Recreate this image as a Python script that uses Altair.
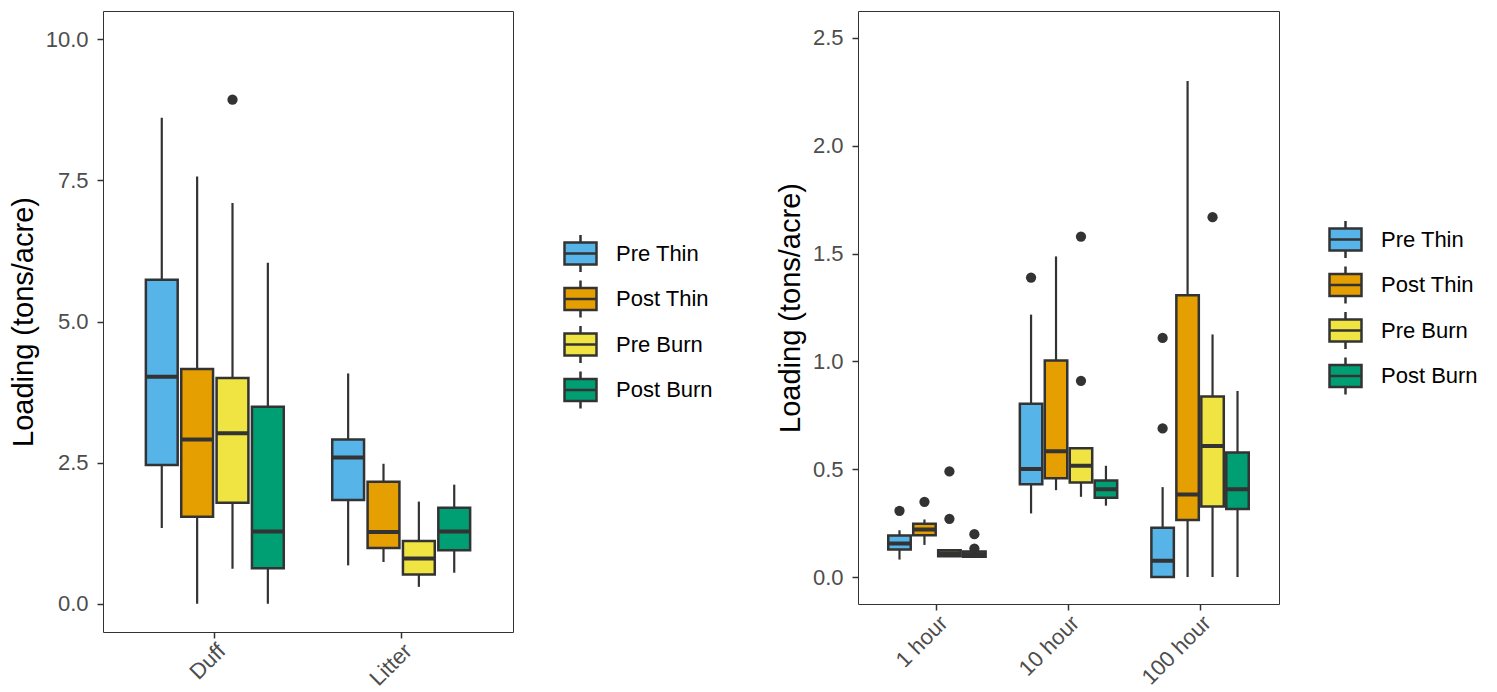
import altair as alt
import pandas as pd

treatments = ["Pre Thin", "Post Thin", "Pre Burn", "Post Burn"]
colors = ["#56B4E9", "#E69F00", "#F0E442", "#009E73"]

# Left panel (Duff / Litter)
left_cats = ["Duff", "Litter"]
left_lo = [1.34, 0.00, 0.62, 0.00, 0.68, 0.74, 0.30, 0.55]
left_q1 = [2.46, 1.54, 1.79, 0.63, 1.84, 0.99, 0.52, 0.95]
left_med = [4.02, 2.91, 3.02, 1.28, 2.59, 1.27, 0.80, 1.28]
left_q3 = [5.74, 4.16, 4.00, 3.49, 2.91, 2.16, 1.11, 1.70]
left_hi = [8.61, 7.57, 7.10, 6.04, 4.08, 2.48, 1.81, 2.11]
left_out_cat = ["Duff"]
left_out_trt = ["Pre Burn"]
left_out_val = [8.93]
left_ticks = [0.0, 2.5, 5.0, 7.5, 10.0]

# Right panel (1 / 10 / 100 hour)
right_cats = ["1 hour", "10 hour", "100 hour"]
right_lo = [0.081, 0.149, 0.093, 0.093, 0.295, 0.403, 0.372, 0.331, 0.0, 0.0, 0.0, 0.0]
right_q1 = [0.128, 0.194, 0.096, 0.094, 0.430, 0.458, 0.438, 0.368, 0.0, 0.264, 0.327, 0.315]
right_med = [0.155, 0.220, 0.110, 0.105, 0.501, 0.583, 0.516, 0.407, 0.076, 0.383, 0.608, 0.407]
right_q3 = [0.193, 0.247, 0.124, 0.118, 0.804, 1.004, 0.597, 0.448, 0.229, 1.307, 0.837, 0.577]
right_hi = [0.217, 0.267, 0.124, 0.118, 1.217, 1.487, 0.597, 0.516, 0.417, 2.300, 1.125, 0.863]
right_out_cat = ["1 hour", "1 hour", "1 hour", "1 hour", "1 hour", "1 hour",
                 "10 hour", "10 hour", "10 hour", "100 hour", "100 hour", "100 hour"]
right_out_trt = ["Pre Thin", "Post Thin", "Pre Burn", "Pre Burn", "Post Burn", "Post Burn",
                 "Pre Thin", "Pre Burn", "Pre Burn", "Pre Thin", "Pre Thin", "Pre Burn"]
right_out_val = [0.307, 0.349, 0.490, 0.270, 0.199, 0.132,
                 1.389, 1.579, 0.910, 1.109, 0.689, 1.669]
right_ticks = [0.0, 0.5, 1.0, 1.5, 2.0, 2.5]

FONT = "Liberation Sans"
DARK = "#333333"
BOX_PATH = ("M-1,-0.69H1V0.69H-1Z M-1,0H1 M0,-0.69V-1.16 M0,0.69V1.16")


def box_df(cats, lo, q1, med, q3, hi):
    rows = []
    i = 0
    for c in cats:
        for t in treatments:
            rows.append(dict(cat=c, trt=t, lo=lo[i], q1=q1[i], med=med[i], q3=q3[i], hi=hi[i]))
            i += 1
    return pd.DataFrame(rows)


def panel(box, out, cats, ydom, yvals, width, height, lx, ly):
    xenc = alt.X("cat:N", sort=cats,
                 scale=alt.Scale(paddingInner=0.26, paddingOuter=0.23),
                 axis=alt.Axis(title=None, labelAngle=-45, labelAlign="right",
                               labelBaseline="top", labelPadding=2))
    xoff = alt.XOffset("trt:N", sort=treatments,
                       scale=alt.Scale(domain=treatments, paddingInner=0.1, paddingOuter=0))
    yscale = alt.Scale(domain=ydom, nice=False, zero=False)
    yaxis = alt.Axis(values=yvals, format=".1f", grid=False, labelPadding=9, titlePadding=7)
    ytitle = "Loading (tons/acre)"

    whisk = alt.Chart(box).mark_rule(color=DARK, strokeWidth=2.2).encode(
        x=xenc, xOffset=xoff,
        y=alt.Y("lo:Q", scale=yscale, axis=yaxis, title=ytitle), y2="hi:Q")
    boxes = alt.Chart(box).mark_bar(stroke=DARK, strokeWidth=2.5).encode(
        x=xenc, xOffset=xoff,
        y=alt.Y("q1:Q", scale=yscale, axis=yaxis, title=ytitle), y2="q3:Q",
        fill=alt.Fill("trt:N", sort=treatments,
                      scale=alt.Scale(domain=treatments, range=colors),
                      legend=alt.Legend(title=None, orient="none", legendX=lx, legendY=ly,
                                        symbolType=BOX_PATH, symbolSize=1024,
                                        symbolStrokeColor=DARK, symbolStrokeWidth=2.5,
                                        labelFontSize=22, labelFont=FONT, labelColor="#000000",
                                        labelOffset=18, rowPadding=-3.5)))
    meds = alt.Chart(box).mark_bar(stroke=DARK, strokeWidth=4, fillOpacity=0).encode(
        x=xenc, xOffset=xoff,
        y=alt.Y("med:Q", scale=yscale, axis=yaxis, title=ytitle), y2="med:Q")
    pts = alt.Chart(out).mark_circle(size=105, color=DARK, opacity=1).encode(
        x=xenc, xOffset=xoff,
        y=alt.Y("val:Q", scale=yscale, axis=yaxis, title=ytitle))
    return alt.layer(whisk, boxes, meds, pts).properties(width=width, height=height)


left_box = box_df(left_cats, left_lo, left_q1, left_med, left_q3, left_hi)
left_out = pd.DataFrame(dict(cat=left_out_cat, trt=left_out_trt, val=left_out_val))
right_box = box_df(right_cats, right_lo, right_q1, right_med, right_q3, right_hi)
right_out = pd.DataFrame(dict(cat=right_out_cat, trt=right_out_trt, val=right_out_val))

left = panel(left_box, left_out, left_cats, [-0.5, 10.5], left_ticks, 410, 621, 460, 225)
right = panel(right_box, right_out, right_cats, [-0.125, 2.625], right_ticks, 421, 593, 470, 211)

chart = alt.hconcat(left, right, spacing=61).resolve_scale(
    fill="independent", x="independent", y="independent", xOffset="independent"
).resolve_legend(fill="independent").properties(
    padding={"left": 0, "top": 2, "right": 0, "bottom": 2}
).configure_view(stroke=DARK, strokeWidth=1).configure_axis(
    domain=False, tickColor=DARK, tickSize=6, tickWidth=1.5,
    labelColor="#4d4d4d", labelFont=FONT, labelFontSize=22,
    titleFont=FONT, titleFontSize=29, titleFontWeight="normal", titleColor="#000000"
)

chart.save("out.html", embed_options={"renderer": "svg", "actions": False})
